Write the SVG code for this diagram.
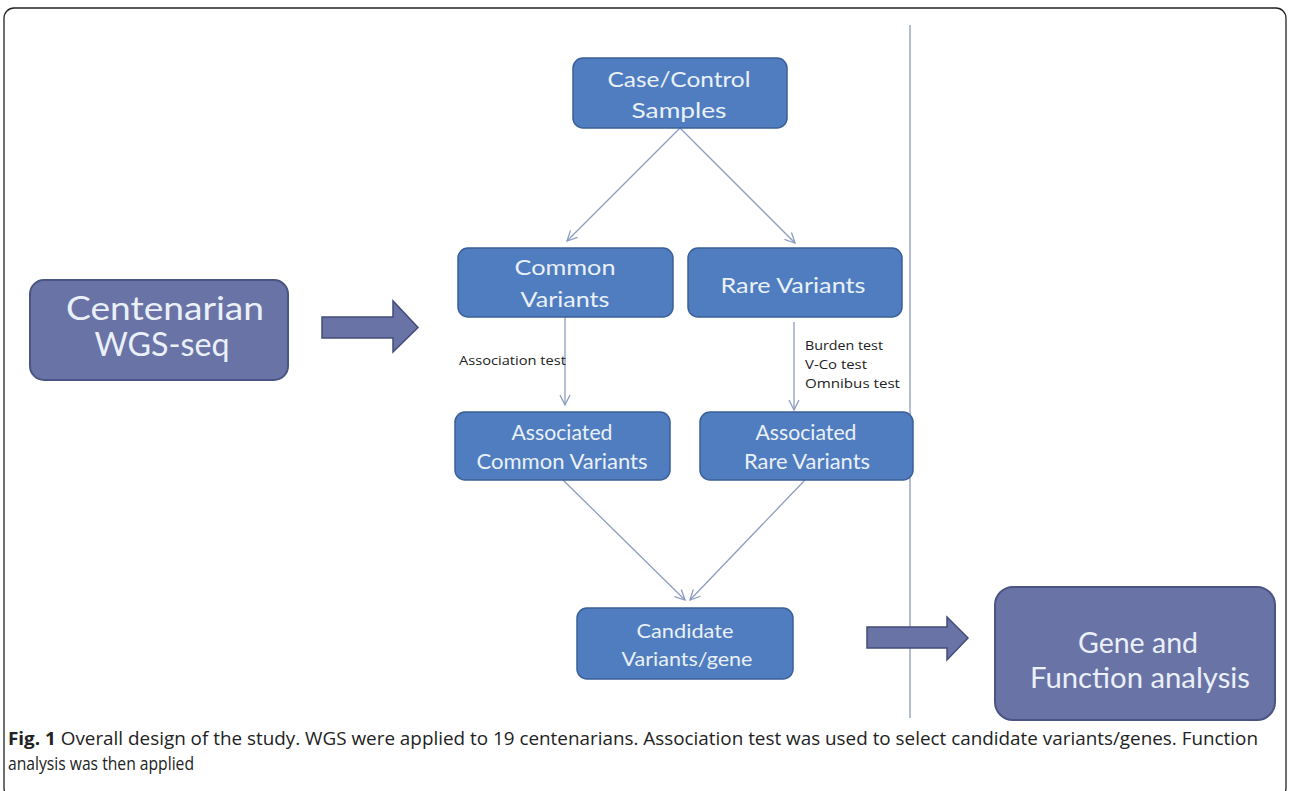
<svg xmlns="http://www.w3.org/2000/svg" width="1290" height="791" viewBox="0 0 1290 791">
<defs>
<style>
.box{fill:#4f7dbf;stroke:#3b5f98;stroke-width:1.5}
.pbox{fill:#6a73a6;stroke:#4b5583;stroke-width:2}
.bt{font-family:Lato,"Open Sans",sans-serif;fill:#eaf0f8;text-anchor:middle}
.lbl{font-family:"Open Sans","Liberation Sans",sans-serif;font-size:12.5px;fill:#222}
.con{stroke:#8d9cc0;stroke-width:1.3;fill:none;marker-end:url(#ah)}
.blk{fill:#6a73a6;stroke:#434c78;stroke-width:1.5}
.cap{font-family:"Open Sans","Liberation Sans",sans-serif;font-size:18.5px;fill:#222}
</style>
<marker id="ah" viewBox="0 0 12 12" refX="11" refY="6" markerWidth="12" markerHeight="12" markerUnits="userSpaceOnUse" orient="auto">
<path d="M1,1 L11,6 L1,11" fill="none" stroke="#8d9cc0" stroke-width="1.3"/>
</marker>
</defs>
<rect x="0" y="0" width="1290" height="791" fill="#fff"/>
<rect x="4" y="8" width="1282" height="790" rx="10" fill="none" stroke="#222" stroke-width="1.3"/>
<line x1="910" y1="25" x2="910" y2="718" stroke="#9aa8c8" stroke-width="1.5"/>

<g id="connectors">
<line class="con" x1="680" y1="128" x2="567" y2="241"/>
<line class="con" x1="680" y1="128" x2="795" y2="243"/>
<line class="con" x1="565" y1="317" x2="565" y2="405"/>
<line class="con" x1="794" y1="322" x2="794" y2="410"/>
<line class="con" x1="563" y1="480" x2="685" y2="600"/>
<line class="con" x1="805" y1="480" x2="690" y2="600"/>
<path class="blk" d="M322,317 L393,317 L393,301 L418,327.5 L393,352 L393,338 L322,338 Z"/>
<path class="blk" d="M867,627 L947,627 L947,617 L968,638 L947,660 L947,648 L867,648 Z"/>
</g>

<g id="case-control">
<rect class="box" x="573" y="58" width="214" height="70" rx="10"/>
<text class="bt" x="679" y="87" font-size="22" textLength="143" lengthAdjust="spacingAndGlyphs">Case/Control</text>
<text class="bt" x="679" y="118" font-size="22" textLength="95" lengthAdjust="spacingAndGlyphs">Samples</text>
</g>
<g id="common">
<rect class="box" x="458" y="248" width="215" height="69" rx="10"/>
<text class="bt" x="565" y="275" font-size="22" textLength="101" lengthAdjust="spacingAndGlyphs">Common</text>
<text class="bt" x="565" y="307" font-size="22" textLength="89" lengthAdjust="spacingAndGlyphs">Variants</text>
</g>
<g id="rare">
<rect class="box" x="688" y="248" width="214" height="69" rx="10"/>
<text class="bt" x="793" y="293" font-size="22" textLength="145" lengthAdjust="spacingAndGlyphs">Rare Variants</text>
</g>
<g id="assoc-common">
<rect class="box" x="455" y="412" width="215" height="68" rx="10"/>
<text class="bt" x="562" y="440" font-size="21" textLength="101" lengthAdjust="spacingAndGlyphs">Associated</text>
<text class="bt" x="562" y="469" font-size="21" textLength="171" lengthAdjust="spacingAndGlyphs">Common Variants</text>
</g>
<g id="assoc-rare">
<rect class="box" x="700" y="412" width="213" height="68" rx="10"/>
<text class="bt" x="806" y="440" font-size="21" textLength="101" lengthAdjust="spacingAndGlyphs">Associated</text>
<text class="bt" x="807" y="469" font-size="21" textLength="126" lengthAdjust="spacingAndGlyphs">Rare Variants</text>
</g>
<g id="candidate">
<rect class="box" x="577" y="608" width="216" height="71" rx="10"/>
<text class="bt" x="685" y="638" font-size="20" textLength="97" lengthAdjust="spacingAndGlyphs">Candidate</text>
<text class="bt" x="687" y="666" font-size="20" textLength="131" lengthAdjust="spacingAndGlyphs">Variants/gene</text>
</g>
<g id="centenarian">
<rect class="pbox" x="30" y="280" width="258" height="100" rx="14"/>
<text class="bt" x="165" y="320" font-size="32" textLength="198" lengthAdjust="spacingAndGlyphs">Centenarian</text>
<text class="bt" x="162" y="356" font-size="32" textLength="135" lengthAdjust="spacingAndGlyphs">WGS-seq</text>
</g>
<g id="gene-function">
<rect class="pbox" x="995" y="587" width="280" height="133" rx="18"/>
<text class="bt" x="1138" y="653" font-size="29" textLength="120" lengthAdjust="spacingAndGlyphs">Gene and</text>
<text class="bt" x="1140" y="688" font-size="29" textLength="220" lengthAdjust="spacingAndGlyphs">Function analysis</text>
</g>

<g id="labels">
<text class="lbl" x="459" y="365" textLength="107" lengthAdjust="spacingAndGlyphs">Association test</text>
<text class="lbl" x="805" y="350" textLength="78" lengthAdjust="spacingAndGlyphs">Burden test</text>
<text class="lbl" x="805" y="369" textLength="62" lengthAdjust="spacingAndGlyphs">V-Co test</text>
<text class="lbl" x="805" y="388" textLength="95" lengthAdjust="spacingAndGlyphs">Omnibus test</text>
</g>

<g id="caption">
<text class="cap" x="8" y="745" textLength="1250" lengthAdjust="spacingAndGlyphs"><tspan font-weight="bold">Fig. 1</tspan> Overall design of the study. WGS were applied to 19 centenarians. Association test was used to select candidate variants/genes. Function</text>
<text class="cap" x="8" y="770" textLength="186" lengthAdjust="spacingAndGlyphs">analysis was then applied</text>
</g>
</svg>
